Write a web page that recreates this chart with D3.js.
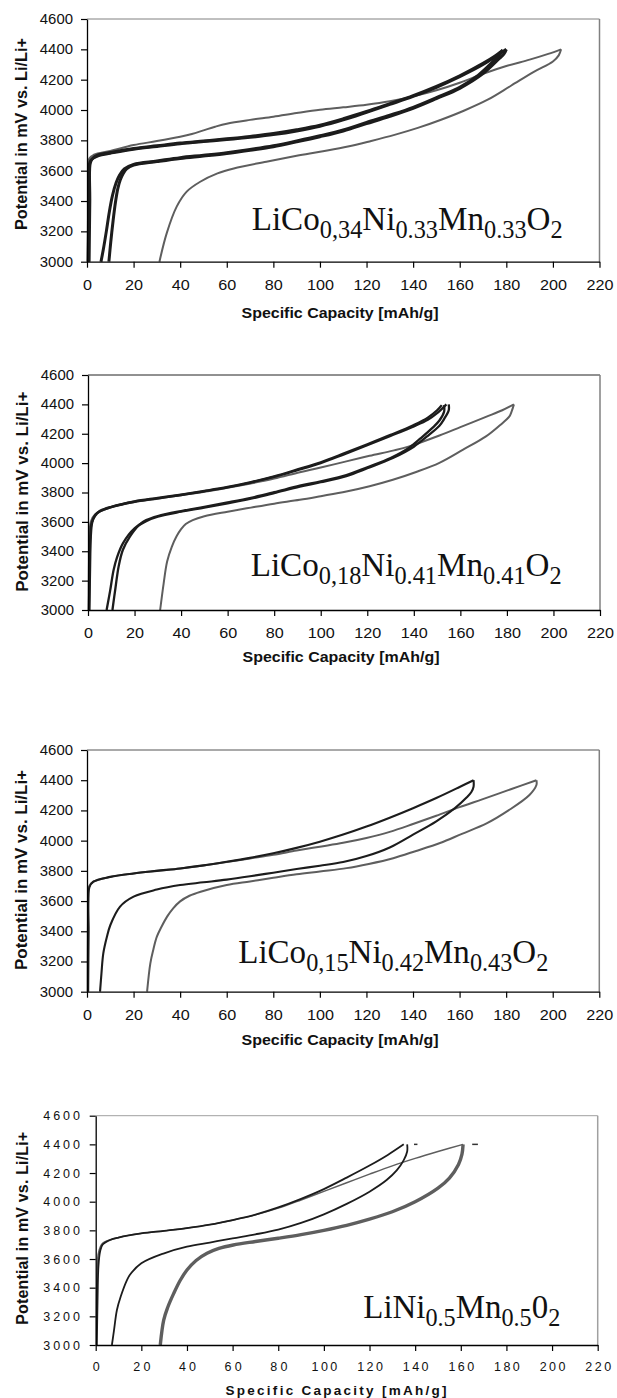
<!DOCTYPE html>
<html>
<meta charset='utf-8'>
<head>
<title>Charge / discharge curves</title>
<script src='https://d3js.org/d3.v7.min.js'></script>
<style>
body { margin: 0; background: #fff; }
text { font-family: 'Liberation Sans', Arial, sans-serif; fill: #111; }
.formula { font-family: 'Liberation Serif', 'Times New Roman', serif; }
</style>
</head>
<body>
<div id='chart'></div>
<script>

var xTicks = [0, 20, 40, 60, 80, 100, 120, 140, 160, 180, 200, 220];
var yTicks = [3000, 3200, 3400, 3600, 3800, 4000, 4200, 4400, 4600];
var xTitle = 'Specific Capacity [mAh/g]';
var yTitle = 'Potential in mV vs. Li/Li+';

// [capacity mAh/g, potential mV]

// panel 1: LiCo0,34Ni0.33Mn0.33O2
var p1BlackCharge = [[0.5,3000],[0.8,3400],[1,3640],[2,3675],[5,3700],[10,3715],[20,3742],[30,3760],[40,3778],[50,3792],[60,3805],[70,3820],[80,3838],[90,3862],[100,3893],[110,3935],[120,3985],[130,4037],[140,4090],[150,4150],[160,4220],[170,4300],[176,4360],[180,4400]];
var p1BlackDischarge = [[180,4400],[179,4370],[177,4340],[170,4240],[160,4143],[150,4075],[140,4011],[130,3958],[120,3910],[110,3862],[100,3824],[90,3790],[80,3758],[70,3735],[60,3714],[50,3697],[40,3681],[30,3660],[20,3637],[17,3612],[15.5,3580],[14.3,3540],[13.2,3480],[12.2,3390],[11.2,3270],[10.2,3130],[9.4,3000]];
var p1BlackCharge2 = [[0.9,3000],[1.2,3400],[1.4,3650],[2.5,3682],[5,3705],[10,3720],[20,3746],[30,3764],[40,3782],[50,3796],[60,3810],[70,3826],[80,3845],[90,3870],[100,3900],[110,3942],[120,3990],[130,4042],[140,4095],[150,4156],[160,4226],[170,4308],[175,4355],[178.5,4395]];
var p1BlackDischarge2 = [[178.5,4395],[177,4360],[175,4330],[168,4230],[160,4150],[150,4082],[140,4018],[130,3966],[120,3918],[110,3868],[100,3830],[90,3796],[80,3764],[70,3740],[60,3719],[50,3702],[40,3686],[30,3664],[20,3642],[16,3612],[14,3572],[12.5,3520],[11,3440],[9.6,3330],[8.3,3200],[7,3080],[6,3000]];
var p1GrayCharge = [[0.3,3000],[0.6,3500],[1,3680],[3,3705],[10,3730],[20,3769],[30,3795],[40,3824],[45,3842],[50,3866],[55,3890],[60,3910],[70,3935],[80,3956],[90,3980],[100,4002],[110,4018],[120,4035],[130,4058],[140,4090],[150,4130],[160,4180],[170,4238],[180,4290],[190,4332],[198,4370],[203.5,4400]];
var p1GrayDischarge = [[203.5,4400],[202.5,4360],[200,4320],[192,4253],[182,4160],[172,4068],[162,3997],[152,3936],[142,3882],[132,3836],[122,3796],[112,3759],[100,3725],[90,3698],[77,3659],[63,3615],[56,3582],[48.6,3527],[42.8,3462],[38.5,3363],[34.2,3187],[31.1,3000]];

// panel 2: LiCo0,18Ni0.41Mn0.41O2
var p2BlackCharge = [[0.4,3000],[0.7,3300],[1,3500],[1.5,3590],[3,3640],[5,3670],[10,3700],[20,3737],[30,3760],[40,3783],[50,3808],[60,3835],[70,3868],[80,3906],[90,3952],[100,4000],[110,4060],[120,4122],[130,4185],[140,4250],[146,4295],[150,4340],[154,4400]];
var p2BlackDischarge = [[155,4400],[155,4360],[153,4300],[151,4255],[145.5,4180],[140,4112],[131,4035],[120,3965],[111,3912],[100,3870],[91,3840],[80,3796],[70,3758],[60,3726],[50,3697],[40,3669],[30,3635],[25,3605],[20,3556],[15,3454],[12.5,3360],[11,3272],[9.5,3130],[8,3000]];
var p2BlackCharge2 = [[0.6,3000],[0.9,3300],[1.2,3500],[1.8,3595],[3,3645],[5,3674],[10,3703],[20,3740],[30,3763],[40,3786],[50,3811],[60,3838],[70,3871],[80,3910],[90,3957],[100,4006],[110,4066],[120,4128],[130,4192],[140,4260],[146,4310],[150,4360],[152,4395]];
var p2BlackDischarge2 = [[153,4395],[153,4350],[151,4290],[148,4240],[143,4170],[138,4105],[130,4035],[120,3972],[111,3918],[100,3876],[91,3846],[80,3802],[70,3764],[60,3732],[50,3702],[40,3674],[30,3640],[25,3612],[22,3580],[18,3500],[15,3410],[13.2,3300],[11.8,3150],[10.5,3000]];
var p2GrayCharge = [[0.3,3000],[0.6,3450],[1.2,3600],[3,3650],[10,3700],[20,3735],[30,3758],[40,3782],[50,3805],[60,3832],[70,3862],[80,3895],[91,3938],[100,3970],[111,4012],[121,4050],[131,4085],[138,4114],[151,4188],[160,4245],[171,4315],[178,4360],[183,4400]];
var p2GrayDischarge = [[183,4400],[182,4350],[181,4316],[177,4258],[171,4182],[161,4090],[151,4002],[141,3940],[131,3887],[121,3843],[111,3807],[100,3775],[91,3750],[80,3724],[70,3697],[60,3669],[50,3638],[45,3612],[42,3585],[40,3550],[38,3500],[36,3430],[34,3330],[32.5,3180],[31,3000]];

// panel 3: LiCo0,15Ni0.42Mn0.43O2
var p3BlackCharge = [[0.5,3000],[0.7,3400],[1,3690],[2.7,3728],[10,3760],[20,3783],[30,3800],[40,3816],[50,3836],[60,3860],[70,3886],[80,3916],[90,3952],[100,3993],[110,4040],[120,4093],[130,4152],[140,4215],[150,4282],[160,4355],[166,4400]];
var p3BlackDischarge = [[166,4400],[166,4357],[165,4320],[163,4285],[158,4215],[150,4128],[140,4040],[130,3955],[120,3898],[110,3858],[100,3834],[90,3812],[80,3788],[70,3764],[60,3742],[50,3724],[40,3706],[30,3676],[20,3629],[14.2,3563],[10,3440],[8.5,3360],[7,3254],[6.2,3120],[5.6,3000]];
var p3GrayCharge = [[0.3,3000],[0.6,3600],[1,3700],[3,3730],[10,3760],[20,3783],[30,3800],[40,3816],[50,3836],[60,3858],[70,3882],[80,3906],[90,3934],[100,3960],[110,3986],[120,4018],[130,4058],[140,4110],[150,4165],[160,4222],[170,4275],[182,4340],[193,4400]];
var p3GrayDischarge = [[193,4400],[193,4368],[190,4302],[181,4200],[171.6,4114],[161,4045],[151.6,3984],[141,3930],[131.5,3884],[121,3846],[111.5,3818],[100,3796],[90,3777],[80,3754],[70,3730],[60,3706],[48.8,3662],[44,3635],[40,3598],[37,3552],[34.4,3497],[32,3430],[30,3364],[28.5,3280],[27.2,3188],[25.8,3000]];

// panel 4: LiNi0.5Mn0.5O2
var p4BlackCharge = [[0.5,3000],[0.8,3300],[1.2,3550],[1.9,3651],[3,3700],[6.3,3733],[10,3750],[20,3779],[30,3797],[40,3816],[50,3840],[60,3872],[70,3910],[80,3960],[90,4020],[100,4088],[110,4168],[120,4252],[128,4326],[135,4400]];
var p4BlackDischarge = [[136.5,4400],[136.5,4350],[135,4290],[132,4220],[127.5,4151],[120,4070],[110,3985],[100,3912],[90,3852],[80,3805],[70,3772],[60,3744],[50,3715],[40,3686],[30,3640],[20,3570],[15,3490],[13.7,3453],[11,3340],[9.3,3244],[8,3100],[7.1,3000]];
var p4GrayCharge = [[0.3,3000],[0.6,3500],[1.2,3640],[3,3710],[10,3750],[20,3779],[30,3797],[40,3816],[50,3840],[60,3871],[70,3908],[80,3955],[90,4012],[100,4072],[110,4132],[120,4192],[130,4250],[140,4302],[150,4350],[161,4400]];
var p4GrayDischarge = [[161,4400],[160.5,4330],[159,4260],[155,4165],[150,4095],[140,4000],[130,3930],[120,3878],[110,3835],[100,3800],[90,3770],[80,3745],[70,3722],[60.3,3698],[54,3674],[48.8,3640],[44,3590],[40,3523],[37,3450],[34.2,3360],[31.5,3260],[29.8,3174],[28.3,3000]];
var p4Dashes = [[139.5,141,4400],[165,167.5,4400]];

var formulas = [
    [['LiCo',0],['0,34',1],['Ni',0],['0.33',1],['Mn',0],['0.33',1],['O',0],['2',1]],
    [['LiCo',0],['0,18',1],['Ni',0],['0.41',1],['Mn',0],['0.41',1],['O',0],['2',1]],
    [['LiCo',0],['0,15',1],['Ni',0],['0.42',1],['Mn',0],['0.43',1],['O',0],['2',1]],
    [['LiNi',0],['0.5',1],['Mn',0],['0.5',1],['0',0],['2',1]]
];

var black = '#1c1c1c', gray = '#5e5e5e';

var panels = [
    {left: 87, right: 599.5, top: 19, bottom: 261.7, frame: '#808080', frameTop: '#808080',
     series: [[p1GrayCharge, gray, 2], [p1GrayDischarge, gray, 2], [p1BlackCharge, black, 3], [p1BlackDischarge, black, 3], [p1BlackCharge2, black, 3], [p1BlackDischarge2, black, 3]],
     tickFont: 14, xw: 9, yw: 8.3, adj: 'spacingAndGlyphs', xPad: 12, yPad: 8,
     xTitleY: 318, xTitleX: 340, titleFont: 15, titleW: 197, titleAdj: 'spacingAndGlyphs',
     yTitleX: 27, yTitleY: 134, yTitleW: 192, fx: 251.7, fy: 230, fw: 311},
    {left: 88, right: 600, top: 375, bottom: 610, frame: '#808080', frameTop: '#222',
     series: [[p2GrayCharge, gray, 2], [p2GrayDischarge, gray, 2], [p2BlackCharge, black, 2.3], [p2BlackDischarge, black, 2.3], [p2BlackCharge2, black, 2.3], [p2BlackDischarge2, black, 2.3]],
     tickFont: 14, xw: 9, yw: 8.3, adj: 'spacingAndGlyphs', xPad: 12, yPad: 8,
     xTitleY: 662, xTitleX: 341, titleFont: 15, titleW: 197, titleAdj: 'spacingAndGlyphs',
     yTitleX: 28, yTitleY: 491.7, yTitleW: 200, fx: 250.7, fy: 576, fw: 311},
    {left: 87, right: 599.3, top: 750, bottom: 991.7, frame: '#808080', frameTop: '#555',
     series: [[p3GrayCharge, gray, 2], [p3GrayDischarge, gray, 2], [p3BlackCharge, black, 2.1], [p3BlackDischarge, black, 2.1]],
     tickFont: 14, xw: 9, yw: 8.3, adj: 'spacingAndGlyphs', xPad: 12, yPad: 8,
     xTitleY: 1045, xTitleX: 340, titleFont: 15, titleW: 197, titleAdj: 'spacingAndGlyphs',
     yTitleX: 27, yTitleY: 870, yTitleW: 200, fx: 238.3, fy: 963, fw: 310},
    {left: 95.7, right: 597.7, top: 1115.7, bottom: 1345, frame: '#a0a0a0', frameTop: '#a0a0a0',
     series: [[p4GrayCharge, gray, 1.5], [p4GrayDischarge, gray, 3.4], [p4BlackCharge, black, 1.8], [p4BlackDischarge, black, 1.8]],
     tickFont: 12.5, xw: 8.6, yw: 9.2, adj: 'spacing', xPad: 11.5, yPad: 9.7,
     xTitleY: 1394.5, xTitleX: 336, titleFont: 13.5, titleW: 221, titleAdj: 'spacing',
     yTitleX: 28, yTitleY: 1228.3, yTitleW: 193, fx: 363.3, fy: 1318, fw: 197,
     dashes: p4Dashes}
];

var svg = d3.select('#chart')
    .append('svg')
    .attr('width', 617)
    .attr('height', 1398);

panels.forEach(function(p, i) {
    var x = d3.scaleLinear().domain([0, 220]).range([p.left, p.right]);
    var y = d3.scaleLinear().domain([3000, 4600]).range([p.bottom, p.top]);
    var g = svg.append('g');

    // top and right border of the plot area
    g.append('line').attr('x1', p.left).attr('x2', p.right).attr('y1', p.top).attr('y2', p.top)
        .attr('stroke', p.frameTop).attr('stroke-width', 1);
    g.append('line').attr('x1', p.right).attr('x2', p.right).attr('y1', p.top).attr('y2', p.bottom)
        .attr('stroke', p.frame).attr('stroke-width', 1.5);

    var line = d3.line()
        .x(function(d) { return x(d[0]); })
        .y(function(d) { return y(d[1]); })
        .curve(d3.curveCatmullRom.alpha(0.5));

    p.series.forEach(function(s) {
        g.append('path')
            .datum(s[0])
            .attr('fill', 'none')
            .attr('stroke', s[1])
            .attr('stroke-width', s[2])
            .attr('stroke-linejoin', 'round')
            .attr('d', line);
    });

    if (p.dashes) {
        g.selectAll('.dash').data(p.dashes).enter().append('line')
            .attr('x1', function(d) { return x(d[0]); })
            .attr('x2', function(d) { return x(d[1]); })
            .attr('y1', function(d) { return y(d[2]); })
            .attr('y2', function(d) { return y(d[2]); })
            .attr('stroke', '#333').attr('stroke-width', 1.5);
    }

    var xAxis = g.append('g')
        .attr('transform', 'translate(0,' + p.bottom + ')')
        .call(d3.axisBottom(x).tickValues(xTicks).tickFormat(d3.format('d'))
            .tickSize(6).tickSizeOuter(0).tickPadding(p.xPad));
    var yAxis = g.append('g')
        .attr('transform', 'translate(' + p.left + ',0)')
        .call(d3.axisLeft(y).tickValues(yTicks).tickFormat(d3.format('d'))
            .tickSize(6).tickSizeOuter(0).tickPadding(p.yPad));

    [xAxis, yAxis].forEach(function(a) {
        a.attr('font-family', null).attr('font-size', null);
        a.select('.domain').attr('stroke', '#000').attr('stroke-width', 1.3);
        a.selectAll('.tick line').attr('stroke', '#000').attr('stroke-width', 1.2);
    });
    xAxis.selectAll('.tick text')
        .style('font-size', p.tickFont + 'px')
        .attr('textLength', function(d) { return String(d).length * p.xw; })
        .attr('lengthAdjust', p.adj);
    yAxis.selectAll('.tick text')
        .style('font-size', p.tickFont + 'px')
        .attr('textLength', function(d) { return String(d).length * p.yw; })
        .attr('lengthAdjust', p.adj);

    g.append('text')
        .attr('x', p.xTitleX)
        .attr('y', p.xTitleY)
        .attr('text-anchor', 'middle')
        .style('font-size', p.titleFont + 'px')
        .style('font-weight', 'bold')
        .attr('textLength', p.titleW)
        .attr('lengthAdjust', p.titleAdj)
        .text(xTitle);

    g.append('text')
        .attr('transform', 'translate(' + p.yTitleX + ',' + p.yTitleY + ') rotate(-90)')
        .attr('text-anchor', 'middle')
        .style('font-size', '16px')
        .style('font-weight', 'bold')
        .attr('textLength', p.yTitleW)
        .attr('lengthAdjust', i == 3 ? 'spacing' : 'spacingAndGlyphs')
        .text(yTitle);

    var f = g.append('text')
        .attr('class', 'formula')
        .attr('x', p.fx)
        .attr('y', p.fy)
        .attr('textLength', p.fw)
        .attr('lengthAdjust', 'spacingAndGlyphs')
        .style('font-size', '34px');
    var prev = 0;
    formulas[i].forEach(function(part) {
        var shift = part[1] ? 7.5 : 0;
        f.append('tspan')
            .attr('dy', shift - prev)
            .style('font-size', part[1] ? '25px' : '34px')
            .text(part[0]);
        prev = shift;
    });
});

</script>
</body>
</html>
